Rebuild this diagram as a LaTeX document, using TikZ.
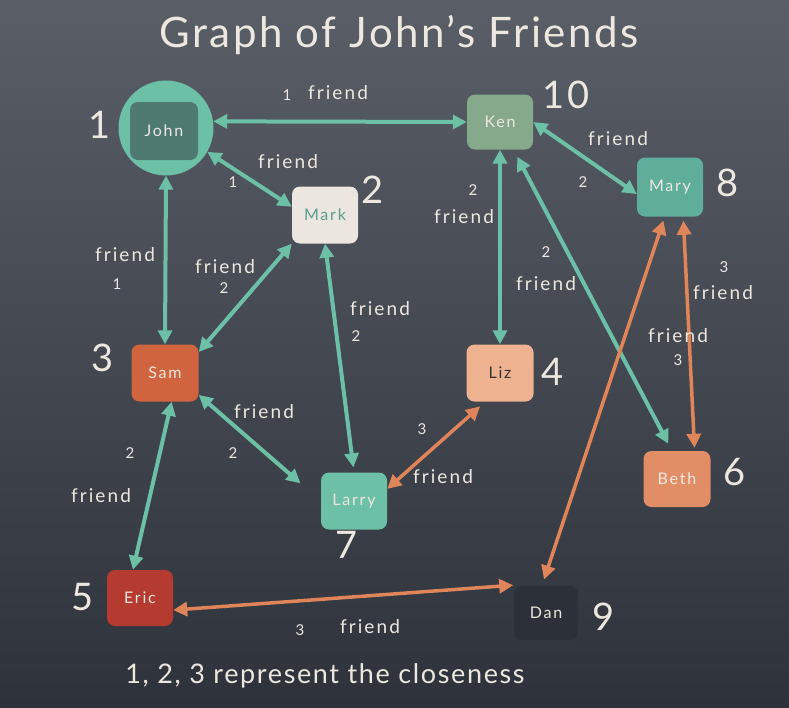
\documentclass[tikz,border=0pt]{standalone}
\usepackage{fontspec}
\setmainfont{Lato}
\newfontfamily\chalkA[LetterSpace=6]{Lato}
\newfontfamily\chalkB[LetterSpace=11]{Lato}
\usetikzlibrary{arrows.meta}
\definecolor{chalk}{HTML}{EDE8DF}
\definecolor{tealc}{HTML}{6CC0A6}
\definecolor{orangec}{HTML}{E0845A}
\definecolor{bgtop}{HTML}{5A5E67}
\definecolor{bgbot}{HTML}{2E323A}
\begin{document}
\begin{tikzpicture}[x=1pt,y=-1pt,
  box/.style={rounded corners=8pt, minimum width=66pt, minimum height=57pt, inner sep=0pt,
     font=\chalkB\fontsize{16}{16}\selectfont, text=chalk},
  lbl/.style={font=\chalkB\fontsize{19}{19}\selectfont, text=chalk, inner sep=0pt},
  num/.style={font=\chalkA\fontsize{15}{15}\selectfont, text=chalk, inner sep=0pt},
  big/.style={font=\chalkA\fontsize{38}{38}\selectfont, text=chalk, inner sep=0pt},
  tedge/.style={draw=tealc, line width=4pt, {Triangle[length=14pt,width=14pt]}-{Triangle[length=14pt,width=14pt]}},
  oedge/.style={draw=orangec, line width=3.5pt, {Triangle[length=14pt,width=14pt]}-{Triangle[length=14pt,width=14pt]}}]
\shade[top color=bgtop, bottom color=bgbot] (0,0) rectangle (789,707);
\useasboundingbox (0,0) rectangle (789,707);

% title
\node[text=chalk, font=\chalkA\fontsize{42}{42}\selectfont] (title) at (399,35) {Graph of John’s Friends};
\node[text=chalk, font=\chalkA\fontsize{27}{27}\selectfont] (note) at (325,676) {1, 2, 3 represent the closeness};

% nodes
\node[circle, fill=tealc, minimum size=95pt, inner sep=0pt] (john) at (166,128) {};
\node[box, fill={rgb,255:red,78;green,122;blue,114}, minimum width=68pt, minimum height=58pt] (johnbox) at (164,131) {John};
\node[box, fill={rgb,255:red,235;green,230;blue,224}, text={rgb,255:red,90;green,157;blue,138}] (mark) at (325,215) {Mark};
\node[box, fill={rgb,255:red,134;green,169;blue,140}, minimum height=55pt] (ken) at (500,122) {Ken};
\node[box, fill={rgb,255:red,95;green,174;blue,154}, minimum height=59pt] (mary) at (670,187) {Mary};
\node[box, fill={rgb,255:red,208;green,100;blue,63}, minimum width=67pt] (sam) at (165,373) {Sam};
\node[box, fill={rgb,255:red,239;green,178;blue,144}, minimum width=67pt, text={rgb,255:red,51;green,51;blue,51}] (liz) at (500,373) {Liz};
\node[box, fill=tealc] (larry) at (354,501) {Larry};
\node[box, fill=orangec!90!chalk, minimum width=67pt, minimum height=56pt] (beth) at (677,479) {Beth};
\node[box, fill={rgb,255:red,181;green,58;blue,48}, minimum height=56pt] (eric) at (140,598) {Eric};
\node[box, fill={rgb,255:red,44;green,48;blue,56}, draw={rgb,255:red,52;green,56;blue,64}, line width=0.6pt, minimum width=65pt, minimum height=55pt] (dan) at (546,613) {Dan};

% big numbers
\node[big] (n1) at (100,125) {1};
\node[big] (n2) at (373,190) {2};
\node[big] (n3) at (103,358) {3};
\node[big] (n4) at (553,372) {4};
\node[big] (n5) at (83,597) {5};
\node[big] (n6) at (735,472) {6};
\node[big] (n7) at (347,545) {7};
\node[big] (n8) at (728,183) {8};
\node[big] (n9) at (604,617) {9};
\node[big] (n10) at (566,95) {10};

% edges
\draw[tedge] (john.8) -- (ken.west);
\draw[tedge] (john.-30) -- (mark.166);
\draw[tedge] (john.south) -- (sam.north);
\draw[tedge] (mark.south west) -- (sam.32);
\draw[tedge, shorten >=5pt] (mark.south) -- (larry.north);
\draw[tedge, shorten >=27pt] (sam.-33) -- (larry.west);
\draw[tedge] (sam.-77) -- (eric.104);
\draw[tedge] (ken.south) -- (liz.north);
\draw[tedge] (ken.east) -- (mary.192);
\draw[tedge, shorten <=8pt, shorten >=8pt] (ken.-64) -- (beth.100);
\draw[oedge, shorten <=7pt] (liz.-117) -- (larry.20);
\draw[oedge, shorten <=4pt, shorten >=3pt] (mary.-66) -- (beth.58);
\draw[oedge, shorten <=4pt, shorten >=6pt] (mary.-100) -- (dan.98);
\draw[oedge] (eric.-20) -- (dan.north west);

% edge labels
\node[num] (a1) at (287,95) {1};
\node[lbl] (a2) at (338,93) {friend};
\node[lbl] (b1) at (288,162) {friend};
\node[num] (b2) at (233,182) {1};
\node[lbl] (c1) at (125,255) {friend};
\node[num] (c2) at (117,284) {1};
\node[lbl] (d1) at (225,267) {friend};
\node[num] (d2) at (224,288) {2};
\node[lbl] (e1) at (380,309) {friend};
\node[num] (e2) at (356,336) {2};
\node[lbl] (f1) at (264,412) {friend};
\node[num] (f2) at (233,453) {2};
\node[num] (g1) at (130,453) {2};
\node[lbl] (g2) at (101,496) {friend};
\node[num] (h1) at (473,190) {2};
\node[lbl] (h2) at (464,217) {friend};
\node[lbl] (i1) at (618,139) {friend};
\node[num] (i2) at (583,182) {2};
\node[num] (j1) at (546,252) {2};
\node[lbl] (j2) at (546,284) {friend};
\node[num] (k1) at (724,267) {3};
\node[lbl] (k2) at (723,293) {friend};
\node[lbl] (m1) at (678,336) {friend};
\node[num] (m2) at (678,360) {3};
\node[num] (p1) at (422,429) {3};
\node[lbl] (p2) at (443,477) {friend};
\node[num] (q1) at (300,630) {3};
\node[lbl] (q2) at (370,627) {friend};
\end{tikzpicture}
\end{document}
